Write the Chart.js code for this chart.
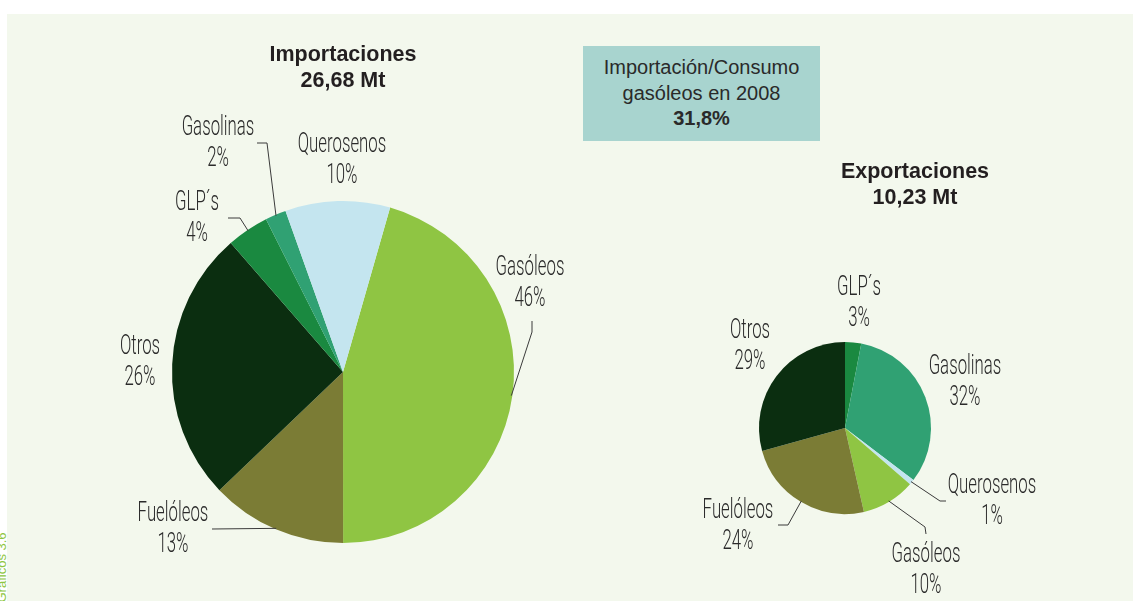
<!DOCTYPE html>
<html>
<head>
<meta charset="utf-8">
<script src="https://cdn.jsdelivr.net/npm/chart.js@4"></script>
<style>
  html, body { margin: 0; padding: 0; background: #fff; }
  #wrap { position: relative; width: 1133px; height: 601px; overflow: hidden; background: #fff; }
  #panel { position: absolute; left: 7px; top: 14px; right: 0; bottom: 0; background: #f3f8ed; }
  canvas { position: absolute; left: 0; top: 0; }
  .ttl { position: absolute; font-family: "Liberation Sans", Arial, sans-serif; font-weight: bold;
         font-size: 21.5px; color: #231f20; text-align: center; line-height: 26px; }
  #box { position: absolute; left: 583px; top: 46px; width: 237px; height: 95px; background: #a8d4cf;
         font-family: "Liberation Sans", Arial, sans-serif; font-size: 20px; color: #2a2a2a;
         text-align: center; line-height: 25.5px; padding-top: 9px; box-sizing: border-box; }
  #side { position: absolute; left: -49px; top: 545px; transform: rotate(-90deg); width: 100px;
          font-family: "Liberation Sans", Arial, sans-serif; font-size: 13px; color: #8dc63f; }
</style>
</head>
<body>
<div id="wrap">
  <div id="panel"></div>
  <div id="side">Gráficos 3.6</div>
  <canvas id="imp" width="1133" height="601"></canvas>
  <canvas id="exp" width="1133" height="601"></canvas>
  <div class="ttl" style="left:193px; top:41px; width:300px;">Importaciones<br>26,68 Mt</div>
  <div class="ttl" style="left:765px; top:158px; width:300px;">Exportaciones<br>10,23 Mt</div>
  <div id="box">Importación/Consumo<br>gasóleos en 2008<br><b>31,8%</b></div>
</div>
<script>
// import / export shares (%)
const impLabels = ['Gasóleos', 'Fuelóleos', 'Otros', 'GLP´s', 'Gasolinas', 'Querosenos'];
const impValues = [46, 13, 26, 4, 2, 10];
const expLabels = ['GLP´s', 'Gasolinas', 'Querosenos', 'Gasóleos', 'Fuelóleos', 'Otros'];
const expValues = [3, 32, 1, 10, 24, 29];

const colors = {
  'Gasóleos': '#8fc543',
  'Fuelóleos': '#7b7c35',
  'Otros': '#0b2e10',
  'GLP´s': '#1a8940',
  'Gasolinas': '#30a173',
  'Querosenos': '#c4e5ef'
};

// label text centre + optional leader bend points (leader starts on the slice edge)
const impPlace = {
  'Gasóleos':   { x: 530, y: 268, leader: [[532, 332], [532, 321]] },
  'Fuelóleos':  { x: 173, y: 514, leader: [[212, 529]] },
  'Otros':      { x: 140, y: 347 },
  'GLP´s':      { x: 197, y: 203, leader: [[240, 218], [228, 218]] },
  'Gasolinas':  { x: 218, y: 128, leader: [[267, 143], [257, 143]] },
  'Querosenos': { x: 342, y: 145 }
};
const expPlace = {
  'GLP´s':      { x: 859, y: 288 },
  'Gasolinas':  { x: 965, y: 367 },
  'Querosenos': { x: 992, y: 486, leader: [[940, 501], [946, 501]] },
  'Gasóleos':   { x: 926, y: 555, leader: [[925, 527], [926, 534]] },
  'Fuelóleos':  { x: 738, y: 511, leader: [[788, 525], [778, 525]] },
  'Otros':      { x: 750, y: 331 }
};

function condensedText(ctx, txt, x, y) {
  ctx.save();
  ctx.translate(x, y);
  ctx.scale(0.6, 1);
  ctx.fillText(txt, 0, 0);
  ctx.restore();
}

const sliceLabels = {
  id: 'sliceLabels',
  afterDraw(chart, args, opts) {
    const ctx = chart.ctx;
    const meta = chart.getDatasetMeta(0);
    const data = chart.data.datasets[0].data;
    ctx.save();
    meta.data.forEach((arc, i) => {
      const name = chart.data.labels[i];
      const p = opts.place[name];
      if (!p) return;
      if (p.leader) {
        const { x, y, startAngle, endAngle, outerRadius } = arc.getProps(['x', 'y', 'startAngle', 'endAngle', 'outerRadius'], true);
        const mid = (startAngle + endAngle) / 2;
        ctx.strokeStyle = '#3a3a3a';
        ctx.lineWidth = 1;
        ctx.beginPath();
        ctx.moveTo(x + Math.cos(mid) * (outerRadius - 1), y + Math.sin(mid) * (outerRadius - 1));
        p.leader.forEach(pt => ctx.lineTo(pt[0], pt[1]));
        ctx.stroke();
      }
      ctx.fillStyle = '#2b2b2b';
      ctx.font = '300 28px Roboto, "Liberation Sans", sans-serif';
      ctx.textAlign = 'center';
      ctx.textBaseline = 'middle';
      condensedText(ctx, name, p.x, p.y);
      condensedText(ctx, data[i] + '%', p.x, p.y + 31);
    });
    ctx.restore();
  }
};

function makePie(id, labels, values, rotation, pad, place) {
  return new Chart(document.getElementById(id), {
    type: 'pie',
    data: {
      labels: labels,
      datasets: [{
        data: values,
        backgroundColor: labels.map(l => colors[l]),
        borderWidth: 0
      }]
    },
    options: {
      responsive: false,
      animation: false,
      rotation: rotation,
      layout: { padding: pad },
      plugins: {
        legend: { display: false },
        tooltip: { enabled: false },
        sliceLabels: { place: place }
      }
    },
    plugins: [sliceLabels]
  });
}

makePie('imp', impLabels, impValues, 16, { left: 172, right: 619, top: 201, bottom: 58 }, impPlace);
makePie('exp', expLabels, expValues, 0, { left: 759, right: 202, top: 342, bottom: 87 }, expPlace);
</script>
</body>
</html>
